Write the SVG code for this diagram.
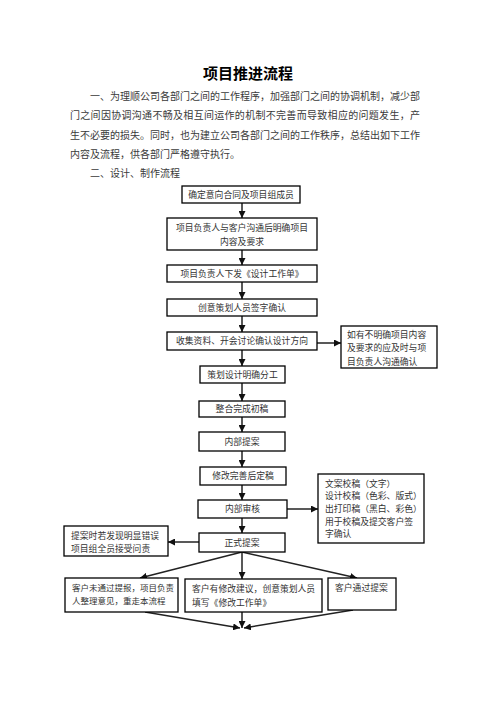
<svg xmlns="http://www.w3.org/2000/svg" width="496" height="702" viewBox="0 0 496 702">
<defs>
<style>
text{font-family:"Noto Sans CJK SC","Noto Sans CJK JP",sans-serif;fill:#333}
.t{font-size:15px;font-weight:bold;fill:#000}
.p{font-size:10px;fill:#3a3a3a}
.b{font-size:8.8px}
.c{text-anchor:middle}
rect{fill:#fff;stroke:#000;stroke-width:1.3}
.cn line{stroke:#222;stroke-width:1.5;fill:none}
</style>
<marker id="a" markerUnits="userSpaceOnUse" markerWidth="7" markerHeight="7" refX="7" refY="3.5" orient="auto" viewBox="0 0 7 7">
<path d="M0,0 L7,3.5 L0,7 z" fill="#111"/>
</marker>
</defs>
<rect x="0" y="0" width="496" height="702" style="stroke:none;fill:#fff"/>
<g id="header">
<text class="t c" x="248" y="79">项目推进流程</text>
<text class="p" x="90" y="100" textLength="330" lengthAdjust="spacing">一、为理顺公司各部门之间的工作程序，加强部门之间的协调机制，减少部</text>
<text class="p" x="70" y="119.3" textLength="350" lengthAdjust="spacing">门之间因协调沟通不畅及相互间运作的机制不完善而导致相应的问题发生，产</text>
<text class="p" x="70" y="138.6" textLength="350" lengthAdjust="spacing">生不必要的损失。同时，也为建立公司各部门之间的工作秩序，总结出如下工作</text>
<text class="p" x="70" y="157.9">内容及流程，供各部门严格遵守执行。</text>
<text class="p" x="90" y="177.2">二、设计、制作流程</text>
</g>
<g class="cn" id="connectors">
<line x1="242" y1="203" x2="242" y2="218" marker-end="url(#a)"/>
<line x1="242" y1="250" x2="242" y2="265" marker-end="url(#a)"/>
<line x1="242" y1="282" x2="242" y2="299" marker-end="url(#a)"/>
<line x1="242" y1="316" x2="242" y2="332" marker-end="url(#a)"/>
<line x1="242" y1="350" x2="242" y2="366" marker-end="url(#a)"/>
<line x1="317" y1="343" x2="341" y2="343" marker-end="url(#a)"/>
<line x1="242" y1="383" x2="242" y2="401" marker-end="url(#a)"/>
<line x1="242" y1="417" x2="242" y2="432" marker-end="url(#a)"/>
<line x1="242" y1="451" x2="242" y2="467" marker-end="url(#a)"/>
<line x1="242" y1="485" x2="242" y2="500" marker-end="url(#a)"/>
<line x1="287" y1="509" x2="318" y2="509" marker-end="url(#a)"/>
<line x1="242" y1="518" x2="242" y2="533" marker-end="url(#a)"/>
<line x1="199" y1="542" x2="168" y2="542" marker-end="url(#a)"/>
<line x1="242" y1="552" x2="140" y2="578" marker-end="url(#a)"/>
<line x1="242" y1="552" x2="242" y2="579" marker-end="url(#a)"/>
<line x1="242" y1="552" x2="357" y2="578" marker-end="url(#a)"/>
<line x1="145" y1="612" x2="240" y2="628" marker-end="url(#a)"/>
<line x1="242" y1="612" x2="242" y2="628" marker-end="url(#a)"/>
<line x1="353" y1="610" x2="244" y2="628" marker-end="url(#a)"/>
</g>
<g id="n1"><rect x="182" y="186" width="118" height="17"/><text class="b c" x="241" y="197.8">确定意向合同及项目组成员</text></g>
<g id="n2"><rect x="167" y="218" width="150" height="32"/><text class="b c" x="242" y="230.5">项目负责人与客户沟通后明确项目</text><text class="b c" x="242" y="244.5">内容及要求</text></g>
<g id="n3"><rect x="167" y="265" width="150" height="17"/><text class="b c" x="242" y="276.8">项目负责人下发《设计工作单》</text></g>
<g id="n4"><rect x="167" y="299" width="150" height="17"/><text class="b c" x="242" y="310.8">创意策划人员签字确认</text></g>
<g id="n5"><rect x="167" y="332" width="150" height="18"/><text class="b c" x="242" y="344.3">收集资料、开会讨论确认设计方向</text></g>
<g id="s1"><rect x="341" y="326" width="96" height="42"/><text class="b" x="347" y="337.5">如有不明确项目内容</text><text class="b" x="347" y="351.2">及要求的应及时与项</text><text class="b" x="347" y="364.9">目负责人沟通确认</text></g>
<g id="n6"><rect x="200" y="366" width="85" height="17"/><text class="b c" x="242.5" y="377.8">策划设计明确分工</text></g>
<g id="n7"><rect x="199" y="401" width="86" height="16"/><text class="b c" x="242" y="412.3">整合完成初稿</text></g>
<g id="n8"><rect x="199" y="432" width="86" height="19"/><text class="b c" x="242" y="444.8">内部提案</text></g>
<g id="n9"><rect x="200" y="467" width="86" height="18"/><text class="b c" x="243" y="479.3">修改完善后定稿</text></g>
<g id="n10"><rect x="198" y="500" width="89" height="18"/><text class="b c" x="242.5" y="512.3">内部审核</text></g>
<g id="s2"><rect x="318" y="474" width="106" height="69"/><text class="b" x="325" y="486.5">文案校稿（文字）</text><text class="b" x="325" y="499.2">设计校稿（色彩、版式）</text><text class="b" x="325" y="511.9">出打印稿（黑白、彩色）</text><text class="b" x="325" y="524.6">用于校稿及提交客户签</text><text class="b" x="325" y="537.3">字确认</text></g>
<g id="n11"><rect x="199" y="533" width="86" height="19"/><text class="b c" x="242" y="545.8">正式提案</text></g>
<g id="s3"><rect x="64" y="526" width="104" height="30"/><text class="b" x="71" y="538.5">提案时若发现明显错误</text><text class="b" x="71" y="552">项目组全员接受问责</text></g>
<g id="o1"><rect x="65" y="578" width="113" height="34"/><text class="b" x="72" y="590.5" style="font-size:8.5px">客户未通过提报，项目负责</text><text class="b" x="72" y="604" style="font-size:8.5px">人整理意见，重走本流程</text></g>
<g id="o2"><rect x="185" y="579" width="137" height="33"/><text class="b" x="192" y="592">客户有修改建议，创意策划人员</text><text class="b" x="192" y="605.5">填写《修改工作单》</text></g>
<g id="o3"><rect x="328" y="578" width="68" height="32"/><text class="b" x="335" y="591">客户通过提案</text></g>
</svg>
